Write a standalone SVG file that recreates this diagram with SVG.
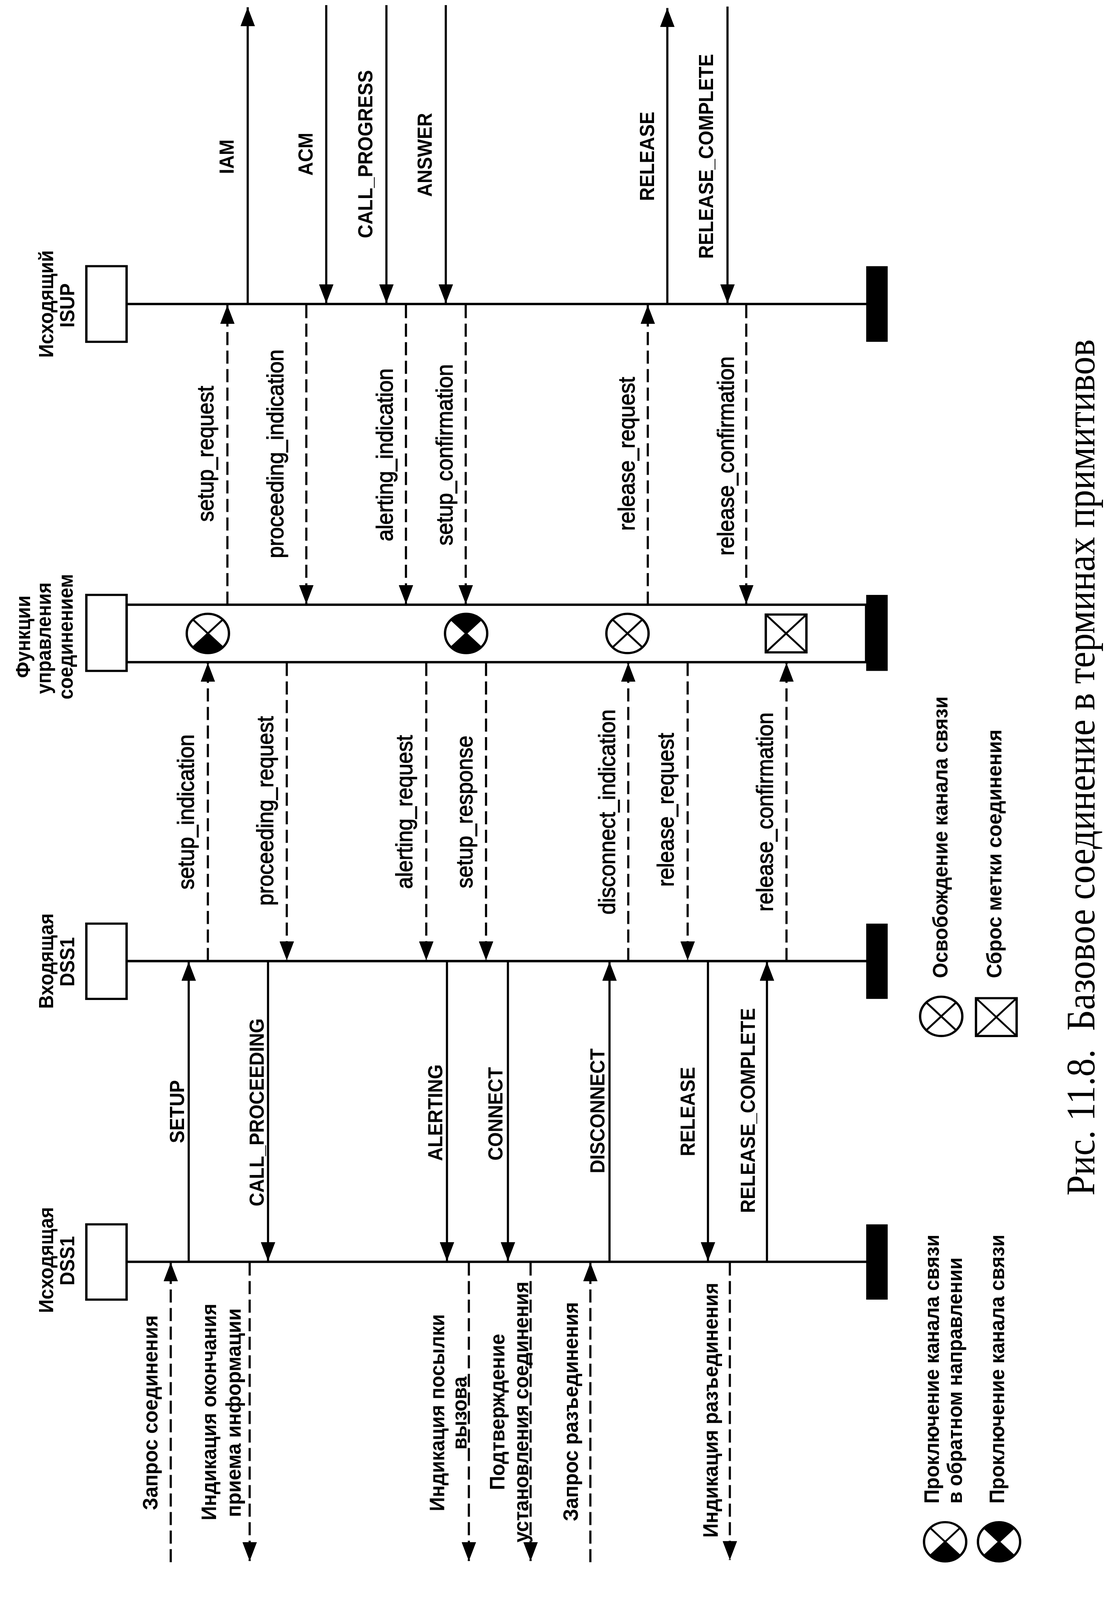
<svg xmlns="http://www.w3.org/2000/svg" width="2841" height="4400" viewBox="0 0 2841 4400">
<style>
.bg{fill:#fff}
.ll{stroke:#000;stroke-width:6.5;fill:none}
.band{fill:#fff;stroke:#000;stroke-width:6.5}
.box{fill:#fff;stroke:#000;stroke-width:6}
.end{fill:#000}
.msg{stroke:#000;stroke-width:5.5;fill:none;marker-end:url(#ah)}
.dash{stroke-dasharray:36 15}
.sym{fill:#fff;stroke:#000;stroke-width:6}
.symx{stroke:#000;stroke-width:5;fill:none}
.wedge{fill:#000;stroke:none}
text{fill:#000;text-anchor:middle}
.t{font-family:"Liberation Sans",Arial,sans-serif;font-weight:bold;font-size:52px}
.u{font-family:"Liberation Sans",Arial,sans-serif;font-weight:bold;font-size:52px}
.l{font-family:"Liberation Sans",Arial,sans-serif;font-size:59px;stroke:#000;stroke-width:1.4}
.r{font-family:"Liberation Sans",Arial,sans-serif;font-weight:bold;font-size:54px}
.lg{font-family:"Liberation Sans",Arial,sans-serif;font-weight:bold;font-size:54px;text-anchor:start}
.cap{font-family:"Liberation Serif","Times New Roman",serif;font-size:103px;text-anchor:start}
</style>
<defs>
<marker id="ah" viewBox="0 0 52 37" refX="52" refY="18.5" markerWidth="52" markerHeight="37" markerUnits="userSpaceOnUse" orient="auto">
<path d="M0,0 L52,18.5 L0,37 Z" fill="#000" stroke="none"/>
</marker>
<g id="symX">
<circle r="54" class="sym"/>
<path class="symx" d="M-38,-38 L38,38 M38,-38 L-38,38"/>
</g>
<path id="wb" d="M0,0 L38.2,38.2 A54,54 0 0 1 -38.2,38.2 Z"/>
<path id="wt" d="M0,0 L-38.2,-38.2 A54,54 0 0 1 38.2,-38.2 Z"/>
</defs>
<rect class="bg" x="0" y="0" width="2841" height="4400"/>

<g id="page" transform="scale(1 0.9309)">

<g id="isup">
<line class="ll" x1="324" y1="836" x2="2217" y2="836"/>
<rect class="box" x="221" y="732" width="103" height="208"/>
<rect class="end" x="2217" y="732" width="55" height="208"/>
<text class="t" transform="translate(136 836) rotate(-90)">Исходящий</text>
<text class="t" transform="translate(190 840) rotate(-90)">ISUP</text>
</g>

<g id="control">
<rect class="band" x="324" y="1663" width="1893" height="158"/>
<rect class="box" x="221" y="1636" width="103" height="209"/>
<rect class="end" x="2217" y="1636" width="55" height="209"/>
<text class="t" transform="translate(77 1751) rotate(-90)">Функции</text>
<text class="t" transform="translate(130 1755) rotate(-90)">управления</text>
<text class="t" transform="translate(186 1751) rotate(-90)">соединением</text>
<g id="sym-band-1" transform="translate(532 1742)"><use href="#symX"/><use href="#wb" class="wedge"/></g>
<g id="sym-band-2" transform="translate(1193 1742)"><use href="#symX"/><use href="#wb" class="wedge"/><use href="#wt" class="wedge"/></g>
<g id="sym-band-3" transform="translate(1606 1742)"><use href="#symX"/></g>
<g id="sym-band-4"><rect class="sym" x="1960" y="1690" width="104" height="104"/><path class="symx" d="M1963,1693 L2061,1791 M2061,1693 L1963,1791"/></g>
</g>

<g id="in-dss1">
<line class="ll" x1="324" y1="2643" x2="2217" y2="2643"/>
<rect class="box" x="221" y="2540" width="103" height="207"/>
<rect class="end" x="2217" y="2540" width="55" height="207"/>
<text class="t" transform="translate(136 2643) rotate(-90)">Входящая</text>
<text class="t" transform="translate(190 2645) rotate(-90)">DSS1</text>
</g>

<g id="out-dss1">
<line class="ll" x1="324" y1="3470" x2="2217" y2="3470"/>
<rect class="box" x="221" y="3367" width="103" height="207"/>
<rect class="end" x="2217" y="3367" width="55" height="207"/>
<text class="t" transform="translate(136 3465) rotate(-90)">Исходящая</text>
<text class="t" transform="translate(190 3467) rotate(-90)">DSS1</text>
</g>

<g id="connectors">
<path class="msg" d="M634,836 L634,20"/>
<path class="msg" d="M835,14 L835,834"/>
<path class="msg" d="M989,14 L989,834"/>
<path class="msg" d="M1141,14 L1141,834"/>
<path class="msg" d="M1708,836 L1708,22"/>
<path class="msg" d="M1862,18 L1862,834"/>
<path class="msg dash" d="M582,1663 L582,839"/>
<path class="msg dash" d="M784,839 L784,1661"/>
<path class="msg dash" d="M1039,839 L1039,1661"/>
<path class="msg dash" d="M1192,839 L1192,1661"/>
<path class="msg dash" d="M1658,1663 L1658,839"/>
<path class="msg dash" d="M1910,839 L1910,1661"/>
<path class="msg dash" d="M532,2643 L532,1823"/>
<path class="msg dash" d="M734,1823 L734,2641"/>
<path class="msg dash" d="M1091,1823 L1091,2641"/>
<path class="msg dash" d="M1244,1823 L1244,2641"/>
<path class="msg dash" d="M1608,2643 L1608,1823"/>
<path class="msg dash" d="M1760,1823 L1760,2641"/>
<path class="msg dash" d="M2013,2643 L2013,1823"/>
<path class="msg" d="M483,3470 L483,2645"/>
<path class="msg" d="M686,2643 L686,3468"/>
<path class="msg" d="M1144,2643 L1144,3468"/>
<path class="msg" d="M1300,2643 L1300,3468"/>
<path class="msg" d="M1560,3470 L1560,2645"/>
<path class="msg" d="M1812,2643 L1812,3468"/>
<path class="msg" d="M1963,3470 L1963,2645"/>
<path class="msg dash" d="M437,4296 L437,3472"/>
<path class="msg dash" d="M639,3472 L639,4293"/>
<path class="msg dash" d="M1200,3472 L1200,4293"/>
<path class="msg dash" d="M1358,3472 L1358,4293"/>
<path class="msg dash" d="M1511,4296 L1511,3472"/>
<path class="msg dash" d="M1868,3472 L1868,4290"/>
</g>

<g id="labels">
<text class="u" transform="translate(598 431) rotate(-90)">IAM</text>
<text class="u" transform="translate(800 424) rotate(-90)">ACM</text>
<text class="u" transform="translate(953 424) rotate(-90)">CALL_PROGRESS</text>
<text class="u" transform="translate(1105 426) rotate(-90)">ANSWER</text>
<text class="u" transform="translate(1674 430) rotate(-90)">RELEASE</text>
<text class="u" transform="translate(1825 430) rotate(-90)">RELEASE_COMPLETE</text>
<text class="l" transform="translate(546 1248) rotate(-90)">setup_request</text>
<text class="l" transform="translate(725 1248) rotate(-90)">proceeding_indication</text>
<text class="l" transform="translate(1005 1251) rotate(-90)">alerting_indication</text>
<text class="l" transform="translate(1158 1251) rotate(-90)">setup_confirmation</text>
<text class="l" transform="translate(1624 1248) rotate(-90)">release_request</text>
<text class="l" transform="translate(1878 1254) rotate(-90)">release_confirmation</text>
<text class="l" transform="translate(496 2233) rotate(-90)">setup_indication</text>
<text class="l" transform="translate(699 2230) rotate(-90)">proceeding_request</text>
<text class="l" transform="translate(1055 2233) rotate(-90)">alerting_request</text>
<text class="l" transform="translate(1209 2233) rotate(-90)">setup_response</text>
<text class="l" transform="translate(1574 2233) rotate(-90)">disconnect_indication</text>
<text class="l" transform="translate(1724 2227) rotate(-90)">release_request</text>
<text class="l" transform="translate(1978 2233) rotate(-90)">release_confirmation</text>
<text class="u" transform="translate(471 3057) rotate(-90)">SETUP</text>
<text class="u" transform="translate(675 3059) rotate(-90)">CALL_PROCEEDING</text>
<text class="u" transform="translate(1132 3060) rotate(-90)">ALERTING</text>
<text class="u" transform="translate(1286 3063) rotate(-90)">CONNECT</text>
<text class="u" transform="translate(1547 3055) rotate(-90)">DISCONNECT</text>
<text class="u" transform="translate(1778 3057) rotate(-90)">RELEASE</text>
<text class="u" transform="translate(1932 3054) rotate(-90)">RELEASE_COMPLETE</text>
<text class="r" transform="translate(403 3885) rotate(-90)" textLength="536" lengthAdjust="spacingAndGlyphs">Запрос соединения</text>
<text class="r" transform="translate(553 3883) rotate(-90)" textLength="596" lengthAdjust="spacingAndGlyphs">Индикация окончания</text>
<text class="r" transform="translate(616 3885) rotate(-90)" textLength="574" lengthAdjust="spacingAndGlyphs">приема информации</text>
<text class="r" transform="translate(1137 3885) rotate(-90)" textLength="542" lengthAdjust="spacingAndGlyphs">Индикация посылки</text>
<text class="r" transform="translate(1194 3886) rotate(-90)" textLength="201" lengthAdjust="spacingAndGlyphs">вызова</text>
<text class="r" transform="translate(1291 3883) rotate(-90)" textLength="430" lengthAdjust="spacingAndGlyphs">Подтверждение</text>
<text class="r" transform="translate(1352 3883) rotate(-90)" textLength="718" lengthAdjust="spacingAndGlyphs">установления соединения</text>
<text class="r" transform="translate(1479 3882) rotate(-90)" textLength="603" lengthAdjust="spacingAndGlyphs">Запрос разъединения</text>
<text class="r" transform="translate(1837 3878) rotate(-90)" textLength="701" lengthAdjust="spacingAndGlyphs">Индикация разъединения</text>
</g>

<g id="legend">
<g id="lg-release" transform="translate(2409 2795)"><use href="#symX"/></g>
<text class="lg" transform="translate(2425 2690) rotate(-90)" textLength="775" lengthAdjust="spacingAndGlyphs">Освобождение канала связи</text>
<g id="lg-reset"><rect class="sym" x="2498" y="2745" width="104" height="104"/><path class="symx" d="M2501,2748 L2599,2846 M2599,2748 L2501,2846"/></g>
<text class="lg" transform="translate(2563 2690) rotate(-90)" textLength="684" lengthAdjust="spacingAndGlyphs">Сброс метки соединения</text>
<g id="lg-back" transform="translate(2419 4240)"><use href="#symX"/><use href="#wb" class="wedge"/></g>
<text class="lg" transform="translate(2403 4135) rotate(-90)" textLength="740" lengthAdjust="spacingAndGlyphs">Проключение канала связи</text>
<text class="lg" transform="translate(2462 4135) rotate(-90)" textLength="677" lengthAdjust="spacingAndGlyphs">в обратном направлении</text>
<g id="lg-through" transform="translate(2557 4240)"><use href="#symX"/><use href="#wb" class="wedge"/><use href="#wt" class="wedge"/></g>
<text class="lg" transform="translate(2570 4135) rotate(-90)" textLength="740" lengthAdjust="spacingAndGlyphs">Проключение канала связи</text>
</g>

<g id="caption">
<text class="cap" xml:space="preserve" transform="translate(2801 3288) rotate(-90)" textLength="2355" lengthAdjust="spacingAndGlyphs">Рис. 11.8.  Базовое соединение в терминах примитивов</text>
</g>

</g>
</svg>
